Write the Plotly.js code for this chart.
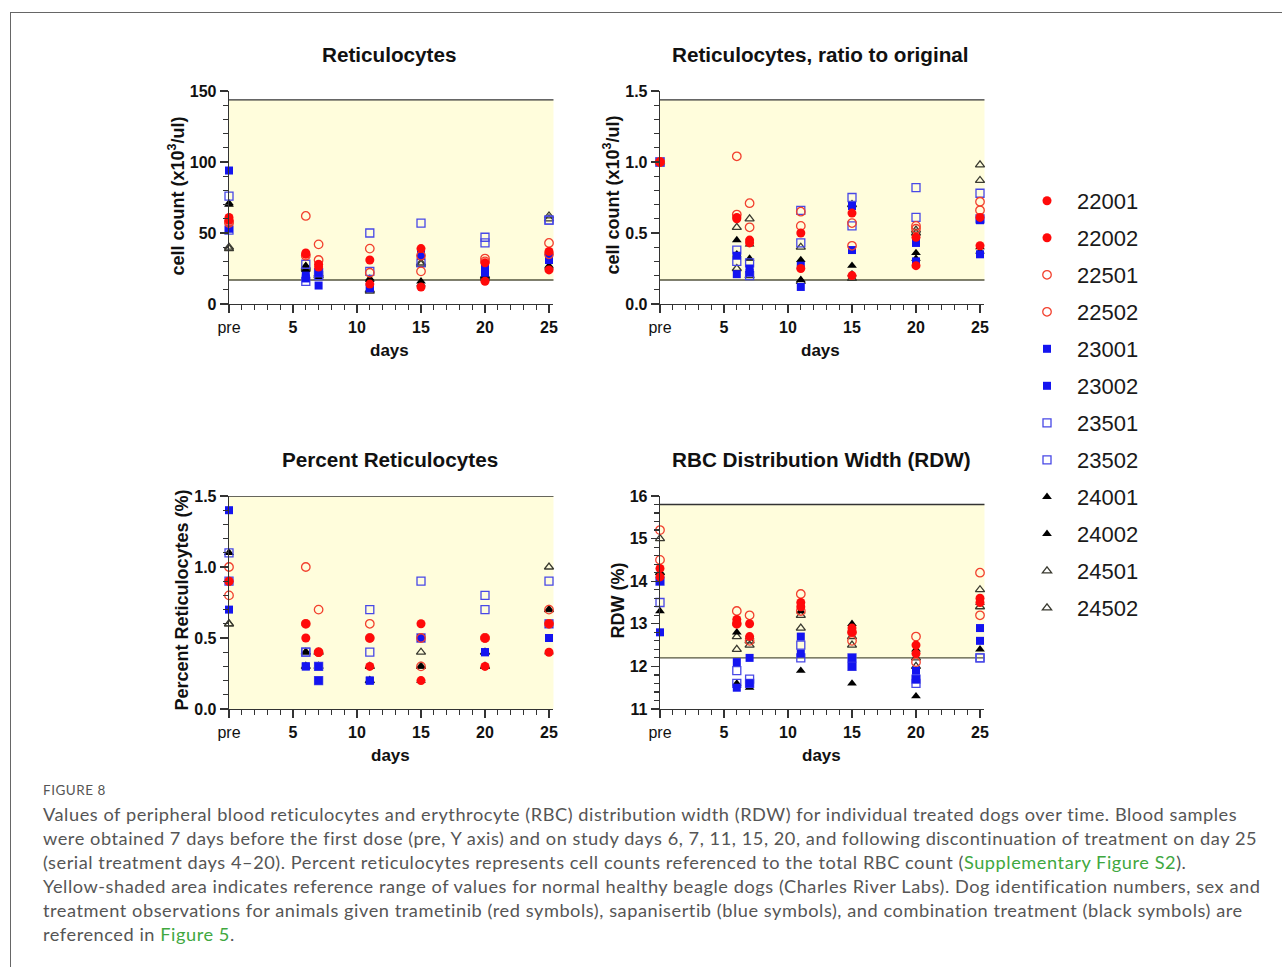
<!DOCTYPE html>
<html>
<head>
<meta charset="utf-8">
<script src="https://cdn.plot.ly/plotly-3.0.1.min.js"></script>
<style>
html,body{margin:0;padding:0;background:#fff;}
#wrap{position:relative;width:1282px;height:967px;overflow:hidden;background:#fff;}
#frame{position:absolute;left:10px;top:12px;width:1320px;height:1000px;border:1.5px solid #666;box-sizing:border-box;}
#plot{position:absolute;left:0;top:0;width:1282px;height:967px;}
#cap{position:absolute;left:43px;top:780px;font-family:Lato,"Open Sans",sans-serif;color:#555;white-space:nowrap;}
#cap .fig{font-size:13.5px;letter-spacing:0.5px;line-height:20px;margin-bottom:2px;}
#cap .txt{font-size:18.2px;letter-spacing:0.55px;line-height:24px;}
#cap .lnk{color:#3fa83f;}
</style>
</head>
<body>
<div id="wrap">
<div id="frame"></div>
<div id="plot"></div>
<div id="cap">
<div class="fig">FIGURE 8</div>
<div class="txt">Values of peripheral blood reticulocytes and erythrocyte (RBC) distribution width (RDW) for individual treated dogs over time. Blood samples<br>were obtained 7 days before the first dose (pre, Y axis) and on study days 6, 7, 11, 15, 20, and following discontinuation of treatment on day 25<br>(serial treatment days 4–20). Percent reticulocytes represents cell counts referenced to the total RBC count (<span class="lnk">Supplementary Figure S2</span>).<br>Yellow-shaded area indicates reference range of values for normal healthy beagle dogs (Charles River Labs). Dog identification numbers, sex and<br>treatment observations for animals given trametinib (red symbols), sapanisertib (blue symbols), and combination treatment (black symbols) are<br>referenced in <span class="lnk">Figure 5</span>.</div>
</div>
</div>
<script>
// ---------------- DATA ----------------
const days = [0, 6, 7, 11, 15, 20, 25];           // 0 = "pre"
const xTickVals = [0, 5, 10, 15, 20, 25];
const xTickText = ['pre', '<b>5</b>', '<b>10</b>', '<b>15</b>', '<b>20</b>', '<b>25</b>'];
const dogs = ['22001','22002','22501','22502','23001','23002','23501','23502','24001','24002','24501','24502'];

// Reticulocytes (x10^3/ul) — rows in dog order, columns in day order
const reticCount = [
  [61, 36, 28, 31, 39, 29, 37],
  [59, 35, 26, 14, 12, 16, 24],
  [57, 62, 42, 39, 34, 32, 43],
  [58, 34, 31, 22, 23, 30, 35],
  [94, 20, 22, 12, 36, 25, 33],
  [53, 18, 13, 11, 34, 22, 31],
  [76, 28, 22, 50, 57, 47, 59],
  [52, 16, 20, 23, 29, 43, 59],
  [70, 27, 20, 18, 16, 18, 27],
  [71, 24, 19, 17, 14, 20, 26],
  [40, 25, 20, 9, 29, 20, 62],
  [39, 26, 21, 10, 28, 19, 60]
];
// Reticulocytes, ratio to original
const reticRatio = [
  [1.0, 0.61, 0.45, 0.50, 0.64, 0.47, 0.61],
  [1.0, 0.60, 0.43, 0.25, 0.20, 0.27, 0.41],
  [1.0, 1.04, 0.71, 0.65, 0.57, 0.55, 0.72],
  [1.0, 0.63, 0.54, 0.55, 0.41, 0.53, 0.66],
  [1.0, 0.34, 0.25, 0.27, 0.69, 0.43, 0.59],
  [1.0, 0.21, 0.22, 0.12, 0.38, 0.30, 0.35],
  [1.0, 0.38, 0.29, 0.66, 0.75, 0.82, 0.78],
  [1.0, 0.30, 0.20, 0.43, 0.55, 0.61, 0.60],
  [1.0, 0.45, 0.42, 0.31, 0.27, 0.36, 0.40],
  [1.0, 0.35, 0.32, 0.17, 0.21, 0.32, 0.37],
  [1.0, 0.54, 0.60, 0.40, 0.70, 0.52, 0.98],
  [1.0, 0.25, 0.20, 0.16, 0.18, 0.50, 0.87]
];
// Percent reticulocytes (%)
const reticPct = [
  [0.9, 0.6, 0.4, 0.5, 0.6, 0.5, 0.6],
  [0.9, 0.5, 0.4, 0.3, 0.2, 0.3, 0.4],
  [1.0, 1.0, 0.7, 0.6, 0.5, 0.5, 0.7],
  [0.8, 0.6, 0.4, 0.5, 0.3, 0.5, 0.6],
  [1.4, 0.3, 0.3, 0.2, 0.5, 0.4, 0.6],
  [0.7, 0.3, 0.2, 0.2, 0.5, 0.4, 0.5],
  [1.1, 0.4, 0.3, 0.7, 0.9, 0.8, 0.9],
  [0.9, 0.4, 0.2, 0.4, 0.5, 0.7, 0.6],
  [1.1, 0.4, 0.4, 0.3, 0.3, 0.4, 0.7],
  [1.1, 0.4, 0.4, 0.2, 0.2, 0.3, 0.4],
  [0.6, 0.4, 0.4, 0.3, 0.4, 0.4, 1.0],
  [0.6, 0.3, 0.3, 0.2, 0.3, 0.3, 0.7]
];
// RDW (%)
const rdw = [
  [14.3, 13.1, 13.0, 13.5, 12.9, 12.5, 13.6],
  [14.1, 13.0, 12.7, 13.4, 12.8, 12.3, 13.5],
  [15.2, 13.3, 13.2, 13.7, 12.8, 12.7, 14.2],
  [14.5, 13.0, 12.6, 13.3, 12.6, 12.1, 13.2],
  [14.0, 12.1, 12.2, 12.7, 12.2, 11.9, 12.9],
  [12.8, 11.5, 11.6, 12.3, 12.0, 11.7, 12.6],
  [13.5, 11.9, 11.7, 12.5, 12.2, 11.6, 12.2],
  [14.0, 11.6, 11.6, 12.2, 12.0, 11.7, 12.2],
  [13.3, 12.8, 11.5, 13.3, 13.0, 11.3, 12.4],
  [14.2, 11.6, 12.7, 11.9, 11.6, 12.4, 13.5],
  [15.0, 12.7, 12.5, 13.2, 12.7, 12.0, 13.8],
  [14.2, 12.4, 12.6, 12.9, 12.5, 12.2, 13.4]
];
// reference ranges (low, high) per panel
const refLow  = [16.9, 0.169, 0.0, 12.2];
const refHigh = [143.7, 1.437, 1.5, 15.8];
const panelTitles = ['Reticulocytes', 'Reticulocytes, ratio to original', 'Percent Reticulocytes', 'RBC Distribution Width (RDW)'];
const yTitles = ['cell count (x10<sup>3</sup>/ul)', 'cell count (x10<sup>3</sup>/ul)', 'Percent Reticulocytes (%)', 'RDW (%)'];

// ---------------- STYLE ----------------
const FONT = 'Arial, "Liberation Sans", sans-serif';
const W = 1282, H = 967;
const px = x => x / W, py = y => 1 - y / H;
const dogStyle = [
  {symbol:'circle', color:'#ff0a0a', size:9},
  {symbol:'circle', color:'#ff0a0a', size:9},
  {symbol:'circle-open', color:'#f2402e', size:8.5},
  {symbol:'circle-open', color:'#f2402e', size:8.5},
  {symbol:'square', color:'#1414f0', size:8},
  {symbol:'square', color:'#1414f0', size:8},
  {symbol:'square-open', color:'#4848e6', size:8},
  {symbol:'square-open', color:'#4848e6', size:8},
  {symbol:'triangle-up', color:'#000000', size:8.5},
  {symbol:'triangle-up', color:'#000000', size:8.5},
  {symbol:'triangle-up-open', color:'#3a3a30', size:8},
  {symbol:'triangle-up-open', color:'#3a3a30', size:8}
];
const drawOrder = [10, 11, 8, 9, 6, 7, 4, 5, 2, 3, 0, 1];
const panelData = [reticCount, reticRatio, reticPct, rdw];
const panelPix = [
  {x0:229, y0:91, y1:304, tx:389, yt:177},
  {x0:660, y0:91, y1:304, tx:820, yt:612},
  {x0:229, y0:496, y1:709, tx:390, yt:181},
  {x0:660, y0:496, y1:709, tx:821, yt:617}
];
const xMax = 25.35, pxPerDay = 12.8;
const yAxisCfg = [
  {range:[0,150], dtick:50, minor:10, fmt:''},
  {range:[0,1.5], dtick:0.5, minor:0.1, fmt:'.1f'},
  {range:[0,1.5], dtick:0.5, minor:0.1, fmt:'.1f'},
  {range:[11,16], dtick:1, minor:0.2, fmt:''}
];

const traces = [];
panelData.forEach((data, p) => {
  const ax = p === 0 ? '' : String(p + 1);
  drawOrder.forEach(i => {
    const st = dogStyle[i];
    traces.push({
      type:'scatter', mode:'markers',
      x: days, y: data[i],
      xaxis:'x' + ax, yaxis:'y' + ax,
      name: dogs[i], legendgroup: dogs[i], legendrank: i + 1,
      showlegend: p === 0,
      cliponaxis:false, hoverinfo:'skip',
      marker:{symbol:st.symbol, color:st.color, size:st.size,
              line:{color:st.color, width: st.symbol.endsWith('open') ? 1.3 : 0}}
    });
  });
});

const layout = {
  width:W, height:H,
  margin:{l:0, r:0, t:0, b:0},
  paper_bgcolor:'rgba(0,0,0,0)', plot_bgcolor:'rgba(0,0,0,0)',
  font:{family:FONT, color:'#111'},
  showlegend:true,
  legend:{x:px(1017), y:py(180), xanchor:'left', yanchor:'top',
          font:{family:FONT, size:22, color:'#1a1a1a'},
          itemwidth:50, tracegroupgap:5.4, bgcolor:'rgba(0,0,0,0)', traceorder:'grouped'},
  shapes:[], annotations:[]
};

panelPix.forEach((pp, p) => {
  const ax = p === 0 ? '' : String(p + 1);
  const xd = [px(pp.x0), px(pp.x0 + xMax * pxPerDay)];
  const yd = [py(pp.y1), py(pp.y0)];
  const yc = yAxisCfg[p];
  layout['xaxis' + ax] = {
    domain: xd, range:[0, xMax], anchor:'y' + ax,
    showgrid:false, zeroline:false, showline:true, linecolor:'#333', linewidth:1.3,
    ticks:'outside', ticklen:8, tickwidth:1.3, tickcolor:'#333',
    tickmode:'array', tickvals:xTickVals, ticktext:xTickText,
    tickfont:{family:FONT, size:16, color:'#111'},
    minor:{ticks:'outside', ticklen:5, tickwidth:1.2, tickcolor:'#333', tickmode:'linear', tick0:0, dtick:1, showgrid:false},
    fixedrange:true
  };
  layout['yaxis' + ax] = {
    domain: yd, range: yc.range, anchor:'x' + ax,
    showgrid:false, zeroline:false, showline:true, linecolor:'#333', linewidth:1.3,
    ticks:'outside', ticklen:8, tickwidth:1.3, tickcolor:'#333',
    tickmode:'linear', tick0: yc.range[0], dtick: yc.dtick, tickformat: yc.fmt,
    tickfont:{family:FONT, size:16, color:'#111', weight:'bold'},
    minor:{ticks:'outside', ticklen:5, tickwidth:1.2, tickcolor:'#333', tickmode:'linear', tick0:yc.range[0], dtick:yc.minor, showgrid:false},
    fixedrange:true
  };
  // reference band
  layout.shapes.push({type:'rect', layer:'below', xref:'x' + ax + ' domain', yref:'y' + ax,
    x0:0, x1:1, y0:refLow[p], y1:refHigh[p], fillcolor:'#fffddc', line:{width:0}});
  [refLow[p], refHigh[p]].forEach((v, k) => {
    if (p === 2 && k === 0) return;
    layout.shapes.push({type:'line', layer:'below', xref:'x' + ax + ' domain', yref:'y' + ax,
      x0:0, x1:1, y0:v, y1:v, line:{color: k === 0 ? '#55553f' : '#333', width:1.3}});
  });
  const common = {xref:'paper', yref:'paper', showarrow:false, xanchor:'center', yanchor:'middle'};
  // panel title
  layout.annotations.push(Object.assign({}, common, {x:px(pp.tx), y:py(pp.y0 - 36),
    text:'<b>' + panelTitles[p] + '</b>', font:{family:FONT, size:20.7, color:'#111'}}));
  // x title
  layout.annotations.push(Object.assign({}, common, {x:px(pp.tx), y:py(pp.y1 + 46),
    text:'<b>days</b>', font:{family:FONT, size:17, color:'#111'}}));
  // y title
  layout.annotations.push(Object.assign({}, common, {x:px(pp.yt), y:py((pp.y0 + pp.y1) / 2 - 2),
    text:'<b>' + yTitles[p] + '</b>', textangle:-90, font:{family:FONT, size:18, color:'#111'}}));
});

Plotly.newPlot('plot', traces, layout, {displayModeBar:false, staticPlot:true});
</script>
</body>
</html>
